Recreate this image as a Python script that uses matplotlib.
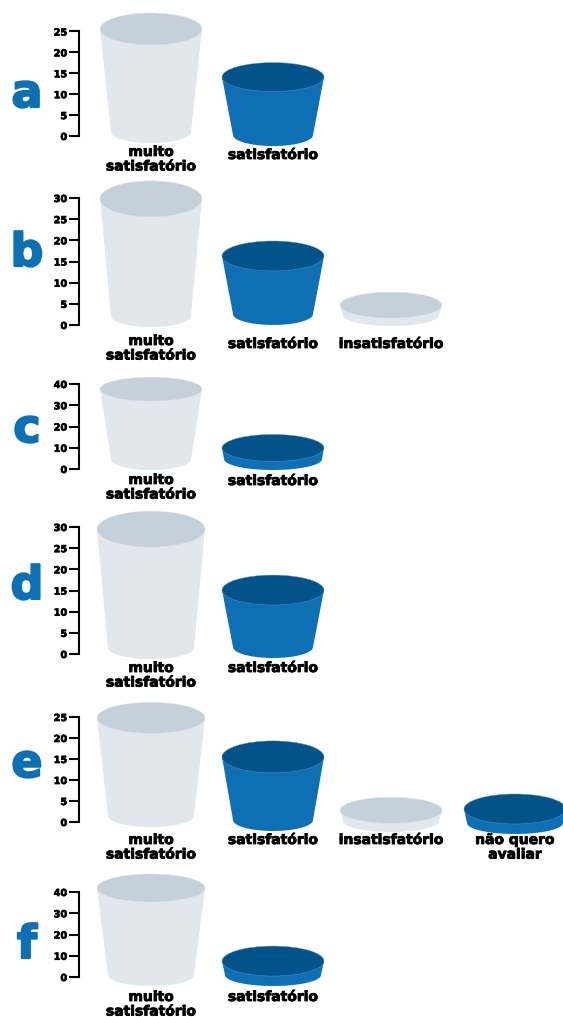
import numpy as np
import matplotlib
matplotlib.use("Agg")
import matplotlib.pyplot as plt
import matplotlib.patheffects as pe
from matplotlib.patches import Ellipse, Polygon

# ---- data ----
panels = ["a", "b", "c", "d", "e", "f"]
cat_a = ["muito\nsatisfatório", "satisfatório"]
cat_b = ["muito\nsatisfatório", "satisfatório", "insatisfatório"]
cat_c = ["muito\nsatisfatório", "satisfatório"]
cat_d = ["muito\nsatisfatório", "satisfatório"]
cat_e = ["muito\nsatisfatório", "satisfatório", "insatisfatório", "não quero\navaliar"]
cat_f = ["muito\nsatisfatório", "satisfatório"]
val_a = [25.6, 14.1]
val_b = [29.8, 16.3, 4.7]
val_c = [37.6, 9.9]
val_d = [29.5, 15.1]
val_e = [24.8, 15.5, 2.8, 3.1]
val_f = [41.9, 7.5]
ticks_a = [0, 5, 10, 15, 20, 25]
ticks_b = [0, 5, 10, 15, 20, 25, 30]
ticks_c = [0, 10, 20, 30, 40]
ticks_d = [0, 5, 10, 15, 20, 25, 30]
ticks_e = [0, 5, 10, 15, 20, 25]
ticks_f = [0, 10, 20, 30, 40]

# ---- layout (pixels) ----
W, H = 563, 1017
BLUE, BLUE_TOP = "#0d70b5", "#02538a"
GREY, GREY_TOP = "#e1e7ed", "#c5d1da"
AX_X = 79
CENTERS = [151, 273, 391, 515]
# panel: y of zero, y of top tick, letter baseline
geom = {"a": (136, 31.5, 107), "b": (325, 198, 266), "c": (469, 384, 442),
        "d": (654, 527, 599), "e": (822, 717, 777), "f": (977, 892, 958)}
top_hh = {"a": [16, 14.5], "b": [18, 15, 13], "c": [12, 13.5], "d": [18, 15],
          "e": [15.5, 16, 13, 15], "f": [14, 15]}
top_hw = {"a": [51, 51], "b": [51, 51, 51], "c": [51, 51], "d": [54, 51],
          "e": [54, 51, 51, 51], "f": [54, 51]}
bot_hw = {"a": [40, 40], "b": [40, 40, 48], "c": [40, 49], "d": [43, 40],
          "e": [43, 40, 48, 48], "f": [43, 48]}
bottoms = {"a": [143, 146], "b": [327, 325, 326], "c": [470, 470], "d": [659, 658],
           "e": [827, 831, 832, 834], "f": [986, 986]}
label_y = {"a": [152, 155], "b": [341, 344, 344], "c": [480, 481], "d": [668, 668],
           "e": [840, 840, 840, 840], "f": [997, 997]}
BOT_HH = 11
LINE = 14.5

fig = plt.figure(figsize=(W / 100, H / 100), dpi=100)
fig.patch.set_facecolor("white")
plt.rcParams["font.family"] = ["DejaVu Sans"]
heavy = [pe.withStroke(linewidth=0.6, foreground="black")]

cats = dict(zip(panels, [cat_a, cat_b, cat_c, cat_d, cat_e, cat_f]))
vals = dict(zip(panels, [val_a, val_b, val_c, val_d, val_e, val_f]))
ticks = dict(zip(panels, [ticks_a, ticks_b, ticks_c, ticks_d, ticks_e, ticks_f]))

for p in panels:
    y0, y1, base = geom[p]
    tmax = ticks[p][-1]
    ax = fig.add_axes([AX_X / W, 1 - y0 / H, (W - AX_X) / W, (y0 - y1) / H])
    ax.set_xlim(AX_X, W)
    ax.set_ylim(0, tmax)
    ax.patch.set_alpha(0)
    for s in ("top", "right", "bottom"):
        ax.spines[s].set_visible(False)
    ax.spines["left"].set_linewidth(1.5)
    ax.set_xticks([])
    ax.set_yticks(ticks[p])
    ax.tick_params(axis="y", length=7, width=1.5, pad=1.5)
    for t in ax.get_yticklabels():
        t.set_fontsize(7)
        t.set_fontweight("bold")
        t.set_path_effects([pe.withStroke(linewidth=0.5, foreground="black")])
    scale = (y0 - y1) / tmax  # px per unit
    for i, v in enumerate(vals[p]):
        cx = CENTERS[i]
        body, top = (GREY, GREY_TOP) if i % 2 == 0 else (BLUE, BLUE_TOP)
        rim = "#dbe3ea" if i % 2 == 0 else "#5b9ac6"
        thw, tbh = top_hw[p][i], top_hh[p][i]
        bhw = bot_hw[p][i]
        bc = (y0 - (bottoms[p][i] - BOT_HH)) / scale
        th = np.linspace(np.pi, 2 * np.pi, 40)
        arc = np.c_[cx + bhw * np.cos(th), bc + BOT_HH / scale * np.sin(th)]
        pts = np.vstack([[cx - thw, v], arc, [cx + thw, v]])
        ax.add_patch(Polygon(pts, closed=True, fc=body, ec="none", clip_on=False, zorder=2))
        ax.add_patch(Ellipse((cx, v), 2 * thw, 2 * tbh / scale, fc=top, ec=rim, lw=0.3,
                             clip_on=False, zorder=3))
        for k, line in enumerate(cats[p][i].split("\n")):
            fig.text(cx / W, 1 - (label_y[p][i] + k * LINE) / H, line, ha="center",
                     va="center", fontsize=10, fontweight="bold", color="black",
                     path_effects=heavy)
    fig.text(27 / W, 1 - base / H, p, ha="center", va="baseline", fontsize=33,
             fontweight="bold", color=BLUE,
             path_effects=[pe.withStroke(linewidth=1.5, foreground=BLUE)])

fig.savefig("out.png", dpi=100)
